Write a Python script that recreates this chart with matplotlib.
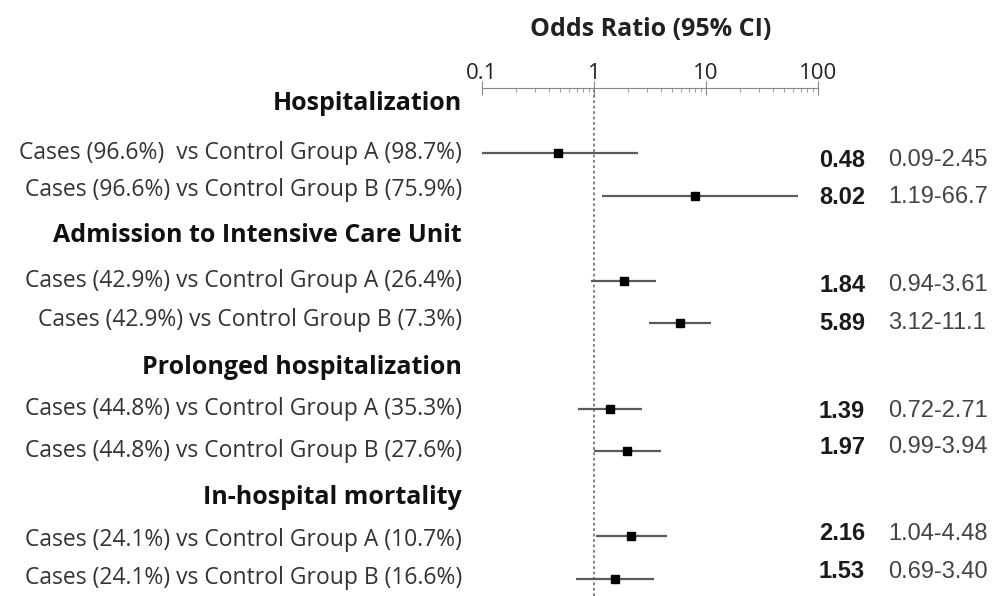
import matplotlib
matplotlib.use("Agg")
from matplotlib import pyplot as plt
import matplotlib.ticker as mticker

# data
groups = ["Hospitalization", "Admission to Intensive Care Unit",
          "Prolonged hospitalization", "In-hospital mortality"]
labels = [
    "Cases (96.6%)  vs Control Group A (98.7%)",
    "Cases (96.6%) vs Control Group B (75.9%)",
    "Cases (42.9%) vs Control Group A (26.4%)",
    "Cases (42.9%) vs Control Group B (7.3%)",
    "Cases (44.8%) vs Control Group A (35.3%)",
    "Cases (44.8%) vs Control Group B (27.6%)",
    "Cases (24.1%) vs Control Group A (10.7%)",
    "Cases (24.1%) vs Control Group B (16.6%)",
]
odds = [0.48, 8.02, 1.84, 5.89, 1.39, 1.97, 2.16, 1.53]
ci_low = [0.09, 1.19, 0.94, 3.12, 0.72, 0.99, 1.04, 0.69]
ci_high = [2.45, 66.7, 3.61, 11.1, 2.71, 3.94, 4.48, 3.40]
ci_text = ["0.09-2.45", "1.19-66.7", "0.94-3.61", "3.12-11.1",
           "0.72-2.71", "0.99-3.94", "1.04-4.48", "0.69-3.40"]

# layout (pixel rows of the picture)
group_y = [104, 236, 367, 497]
label_y = [153, 190, 281, 320, 409, 451, 540, 578]
mark_y = [153, 196, 281, 323, 409, 451, 536, 579]
num_y = [160, 197, 285, 323, 411, 447, 534, 572]

W, H = 1005, 596
fig = plt.figure(figsize=(W / 100, H / 100), dpi=100)
ax = fig.add_axes([482 / W, 0, (818 - 482) / W, 1 - 88 / H])
ax.set_xscale("log")
ax.set_xlim(0.1, 100)
ax.set_ylim(H, 88)

for s in ["left", "right", "bottom"]:
    ax.spines[s].set_visible(False)
ax.spines["top"].set_color("#888888")
ax.yaxis.set_visible(False)
ax.xaxis.tick_top()
ax.xaxis.set_major_locator(mticker.FixedLocator([0.1, 1, 10, 100]))
ax.xaxis.set_major_formatter(mticker.FixedFormatter(["0.1", "1", "10", "100"]))
ax.xaxis.set_minor_locator(mticker.LogLocator(subs=range(2, 10)))
ax.xaxis.set_minor_formatter(mticker.NullFormatter())
ax.tick_params(axis="x", which="major", direction="inout", length=10,
               color="#888888", labelsize=16, pad=-2, labelcolor="#222222")
ax.tick_params(axis="x", which="minor", direction="in", length=3, color="#888888")
for t in ax.get_xticklabels():
    t.set_fontfamily("Open Sans")

ax.axvline(1, color="#777777", lw=1.3, ls=(0, (1.5, 1.5)))

ax.hlines(mark_y, ci_low, ci_high, color="#5a5a5a", lw=1.6)
ax.plot(odds, mark_y, "s", color="black", ms=6)

fig.text(651 / W, 1 - 30 / H, "Odds Ratio (95% CI)", ha="center", va="center",
         fontsize=18, fontweight="bold", family="Open Sans", color="#222222")

for g, y in zip(groups, group_y):
    fig.text(462 / W, 1 - y / H, g, ha="right", va="center", fontsize=18,
             fontweight="bold", family="Open Sans", color="#111111")
for lab, y in zip(labels, label_y):
    fig.text(462 / W, 1 - y / H, lab, ha="right", va="center", fontsize=16.5,
             family="Open Sans", color="#333333")
for o, c, y in zip(odds, ci_text, num_y):
    fig.text(865 / W, 1 - y / H, f"{o:.2f}", ha="right", va="center",
             fontsize=17, fontweight="bold", family="Liberation Sans", color="#1a1a1a")
    fig.text(888 / W, 1 - y / H, c, ha="left", va="center",
             fontsize=17, family="Liberation Sans", color="#444444")

fig.savefig("out.png", dpi=100)
